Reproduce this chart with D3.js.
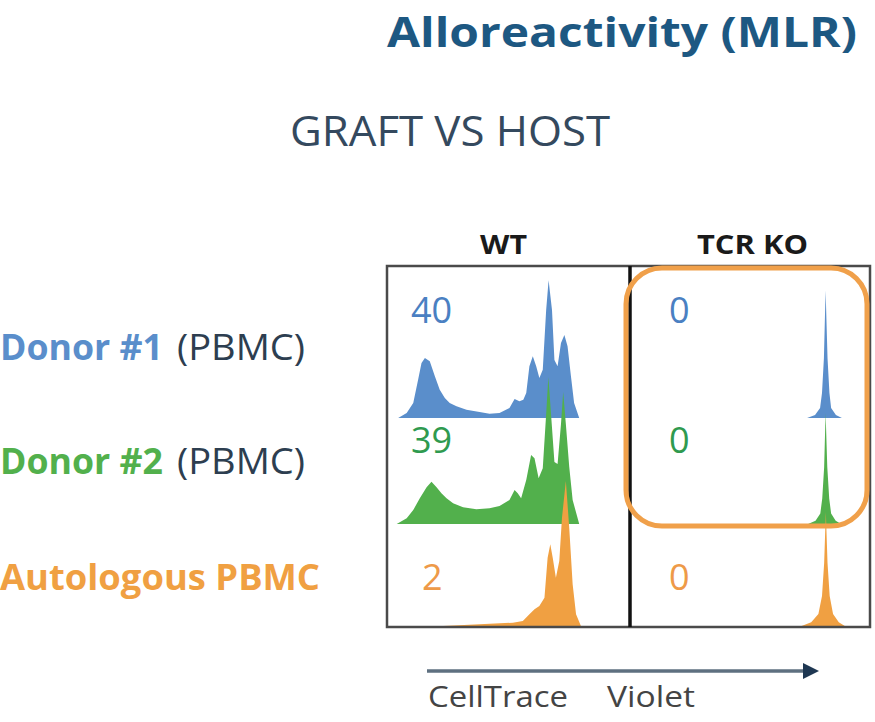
<!DOCTYPE html>
<html><head><meta charset="utf-8">
<script src="https://cdn.jsdelivr.net/npm/d3@7"></script>
<style>body{margin:0;background:#fff}</style></head>
<body><svg id="c" width="875" height="722"></svg>
<script>
const titleText = "Alloreactivity (MLR)";
const subtitleText = "GRAFT VS HOST";
const columns = ["WT", "TCR KO"];
const rowLabels = [["Donor #1", " (PBMC)"], ["Donor #2", " (PBMC)"], ["Autologous PBMC", ""]];
const percentWT = [40, 39, 2];
const percentKO = [0, 0, 0];
const axisLabel = ["CellTrace", "Violet"];

// histogram traces: [CellTrace Violet intensity (0-100), relative count (0-100)]
const wtDonor1 = [[4.6,0],[8.1,3.3],[10.8,10],[12.8,25.5],[14.2,36.7],[15.6,40],[17.6,37.8],[19.7,27.8],[21.7,18.9],[23.8,13.3],[25.8,10],[28.6,7.8],[32.7,5.5],[38.1,4],[42.2,2.9],[46.3,3.3],[50.4,6.7],[52.5,12.7],[54.5,11.1],[56.1,12.2],[57.3,16.7],[58.6,34.5],[60.0,41.1],[61.4,34.5],[62.7,26.7],[64.1,32.2],[65.5,72],[66.5,91.8],[67.9,72],[68.9,38.7],[70.2,34.5],[71.6,50],[73.0,55.3],[74.3,47.8],[75.7,27.8],[77.0,10],[79.1,0]];
const wtDonor2 = [[4.0,0],[8.1,3.8],[10.8,9.3],[13.5,17.1],[16.3,24.5],[18.3,28.2],[20.4,24.5],[22.4,20.5],[24.5,17.1],[27.2,13.8],[31.3,11.1],[36.8,9.8],[42.2,10.5],[46.3,12],[50.4,16],[52.5,22.7],[53.8,20.5],[55.2,17.1],[57.3,29.3],[59.3,46],[60.7,43.8],[62.4,30.5],[64.1,37.1],[65.5,73.3],[66.4,98],[67.5,73.3],[68.9,41.3],[70.2,40],[71.6,66.7],[72.5,88],[73.6,66.7],[75.0,38],[76.4,16],[79.1,0]];
const wtAuto = [[23.1,0],[38.1,1.1],[51.8,2.2],[55.9,3.3],[58.6,7.8],[60.7,11.1],[62.7,13.3],[64.8,18.9],[66.1,45.5],[67.2,54.5],[68.2,45.5],[69.5,32.2],[70.9,43.3],[72.0,72],[73.6,96.7],[75.0,65.3],[76.4,27.8],[77.8,7.8],[79.8,0]];
const koDonor1 = [[73.8,0],[77.1,2],[79.2,6.7],[80.0,16.7],[80.8,40],[81.5,85],[82.3,40],[83.1,16.7],[83.8,6.7],[85.8,2],[88.3,0]];
const koDonor2 = [[74.2,0],[77.3,2.2],[79.3,7],[80.1,17],[80.9,38],[81.5,74],[82.2,38],[83.0,17],[83.8,7],[85.7,2.2],[88.0,0]];
const koAuto = [[71.5,0],[75.5,2.5],[78.5,8],[80.0,20],[80.9,42],[81.6,76],[82.3,42],[83.2,20],[84.6,8],[87.0,2.5],[89.5,0]];

const seriesWT = [wtDonor1, wtDonor2, wtAuto];
const seriesKO = [koDonor1, koDonor2, koAuto];

const rowColors = ["#5a8ecb", "#52b04c", "#f0a042"];
const numColors = ["#4a80c2", "#2f9a4f", "#ee9a48"];
const font = "'Open Sans', sans-serif";

const svg = d3.select("#c");

// layout
const boxLeft = 387, boxRight = 870, boxTop = 266, boxBottom = 627, divX = 630;
const baselines = [418, 524, 626];
const rowCenters = [360, 474, 590];

const xWT = d3.scaleLinear().domain([0, 100]).range([boxLeft, divX]);
const xKO = d3.scaleLinear().domain([0, 100]).range([divX, boxRight]);
const hScale = d3.scaleLinear().domain([0, 100]).range([0, 150]);

function drawHist(data, xs, base, color) {
  const area = d3.area()
    .x(d => xs(d[0]))
    .y0(base)
    .y1(d => base - hScale(d[1]))
    .curve(d3.curveLinear);
  svg.append("path").datum(data).attr("d", area).attr("fill", color);
}

seriesWT.forEach((s, i) => drawHist(s, xWT, baselines[i], rowColors[i]));
seriesKO.forEach((s, i) => drawHist(s, xKO, baselines[i], rowColors[i]));

// panel box
svg.append("rect").attr("x", boxLeft).attr("y", boxTop)
  .attr("width", boxRight - boxLeft).attr("height", boxBottom - boxTop)
  .attr("fill", "none").attr("stroke", "#4a4a4a").attr("stroke-width", 2.5);
svg.append("line").attr("x1", divX).attr("x2", divX).attr("y1", boxTop).attr("y2", boxBottom)
  .attr("stroke", "#111").attr("stroke-width", 3.5);

// highlight rounded box
svg.append("rect").attr("x", 626).attr("y", 268).attr("width", 241).attr("height", 258)
  .attr("rx", 36).attr("ry", 36).attr("fill", "none")
  .attr("stroke", "#f0a04a").attr("stroke-width", 5);

// percentages
const numY = [323, 453, 590];
percentWT.forEach((v, i) => {
  svg.append("text").attr("x", i === 2 ? 422 : 411).attr("y", numY[i])
    .attr("font-family", font).attr("font-size", 36).attr("fill", numColors[i]).text(v);
});
percentKO.forEach((v, i) => {
  svg.append("text").attr("x", 669).attr("y", numY[i])
    .attr("font-family", font).attr("font-size", 36).attr("fill", numColors[i]).text(v);
});

// column headers
const colLeft = [480, 697];
const colWidth = [47, 111];
columns.forEach((c, i) => {
  svg.append("text").attr("x", colLeft[i]).attr("y", 254)
    .attr("font-family", font).attr("font-weight", 700).attr("font-size", 26)
    .attr("textLength", colWidth[i]).attr("lengthAdjust", "spacingAndGlyphs")
    .attr("fill", "#1a1a1a").text(c);
});

// title
svg.append("text").attr("x", 387).attr("y", 47)
  .attr("font-family", font).attr("font-weight", 700).attr("font-size", 42)
  .attr("fill", "#1d5882").attr("textLength", 470).attr("lengthAdjust", "spacingAndGlyphs")
  .text(titleText);
svg.append("text").attr("x", 290).attr("y", 146)
  .attr("font-family", font).attr("font-size", 42)
  .attr("fill", "#34495e").attr("textLength", 320).attr("lengthAdjust", "spacingAndGlyphs")
  .text(subtitleText);

// row labels
rowLabels.forEach((r, i) => {
  const g = svg.append("g");
  g.append("text").attr("x", 0).attr("y", rowCenters[i])
    .attr("font-family", font).attr("font-weight", 700).attr("font-size", 36)
    .attr("fill", rowColors[i])
    .attr("textLength", i === 2 ? 320 : 163).attr("lengthAdjust", "spacingAndGlyphs")
    .text(r[0]);
  if (r[1]) {
    g.append("text").attr("x", 177).attr("y", rowCenters[i])
      .attr("font-family", font).attr("font-size", 36).attr("fill", "#2d3e50")
      .attr("textLength", 128).attr("lengthAdjust", "spacingAndGlyphs")
      .text(r[1].trim());
  }
});

// axis arrow
svg.append("line").attr("x1", 427).attr("x2", 806).attr("y1", 671).attr("y2", 671)
  .attr("stroke", "#5e7080").attr("stroke-width", 3.5);
svg.append("path").attr("d", "M803,663 L819,671 L803,679 Z").attr("fill", "#1e3752");
svg.append("text").attr("x", 428).attr("y", 707).attr("font-family", font).attr("font-size", 29)
  .attr("fill", "#444").attr("textLength", 140).attr("lengthAdjust", "spacingAndGlyphs").text(axisLabel[0]);
svg.append("text").attr("x", 607).attr("y", 707).attr("font-family", font).attr("font-size", 29)
  .attr("fill", "#444").attr("textLength", 88).attr("lengthAdjust", "spacingAndGlyphs").text(axisLabel[1]);
</script></body></html>
